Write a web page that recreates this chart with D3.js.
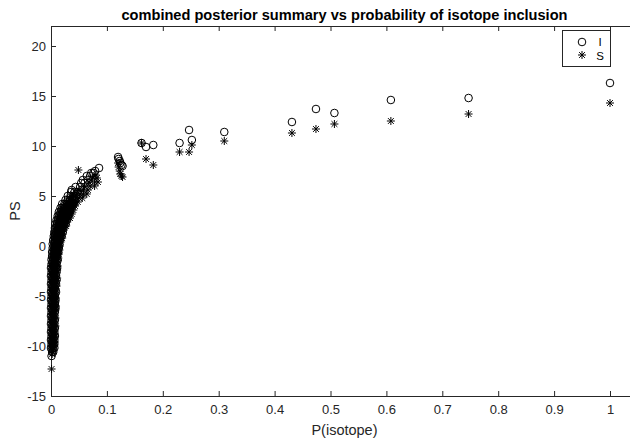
<!DOCTYPE html>
<html><head><meta charset="utf-8">
<script src="https://cdn.jsdelivr.net/npm/d3@7"></script>
<style>
body{margin:0;background:#fff}
svg{display:block}
text{font-family:Arial,"Liberation Sans",Helvetica,sans-serif}
</style>
</head><body>
<svg id="chart" width="630" height="440"></svg>
<script>
// ---------- data ----------
const titleText = "combined posterior summary vs probability of isotope inclusion";
const xLabel = "P(isotope)";
const yLabel = "PS";
const seriesNames = ["I", "S"];
const xTicks = [0, 0.1, 0.2, 0.3, 0.4, 0.5, 0.6, 0.7, 0.8, 0.9, 1];
const xTickLabels = ["0", "0.1", "0.2", "0.3", "0.4", "0.5", "0.6", "0.7", "0.8", "0.9", "1"];
const yTicks = [-15, -10, -5, 0, 5, 10, 15, 20];
const yTickLabels = ["-15", "-10", "-5", "0", "5", "10", "15", "20"];

// series I (circles): dense part as [PS, [P(isotope) values]]
const iDense = [
  [-11.0, [0.001]],
  [-10.6, [0.002, 0.004]],
  [-10.2, [0.000, 0.003, 0.006]],
  [-9.8, [0.001, 0.004, 0.006]],
  [-9.4, [0.000, 0.003, 0.006]],
  [-9.0, [0.001, 0.004, 0.007]],
  [-8.6, [0.000, 0.003, 0.006]],
  [-8.2, [0.001, 0.004, 0.007]],
  [-7.8, [0.000, 0.003, 0.006]],
  [-7.4, [0.001, 0.004, 0.007]],
  [-7.0, [0.000, 0.003, 0.006]],
  [-6.6, [0.001, 0.004, 0.007]],
  [-6.2, [0.000, 0.003, 0.006, 0.008]],
  [-5.8, [0.001, 0.004, 0.007]],
  [-5.4, [0.000, 0.003, 0.006, 0.008]],
  [-5.0, [0.001, 0.004, 0.007]],
  [-4.6, [0.000, 0.003, 0.006, 0.009]],
  [-4.2, [0.001, 0.004, 0.007]],
  [-3.8, [0.000, 0.003, 0.006, 0.009]],
  [-3.4, [0.001, 0.004, 0.007, 0.010]],
  [-3.0, [0.000, 0.003, 0.006, 0.009]],
  [-2.6, [0.001, 0.004, 0.007, 0.010]],
  [-2.2, [0.000, 0.003, 0.006, 0.009, 0.011]],
  [-1.8, [0.001, 0.004, 0.007, 0.010]],
  [-1.4, [0.001, 0.004, 0.007, 0.010, 0.012]],
  [-1.0, [0.002, 0.005, 0.008, 0.011]],
  [-0.6, [0.002, 0.005, 0.008, 0.011, 0.013]],
  [-0.2, [0.003, 0.006, 0.009, 0.012, 0.014]],
  [0.2, [0.003, 0.006, 0.009, 0.012, 0.015]],
  [0.6, [0.004, 0.007, 0.010, 0.013, 0.016]],
  [1.0, [0.005, 0.008, 0.011, 0.014, 0.017, 0.019]],
  [1.4, [0.006, 0.009, 0.012, 0.015, 0.018, 0.021]],
  [1.8, [0.007, 0.010, 0.013, 0.016, 0.019, 0.022]],
  [2.2, [0.008, 0.011, 0.014, 0.017, 0.020, 0.023, 0.026]],
  [2.6, [0.010, 0.013, 0.016, 0.019, 0.022, 0.025, 0.028]],
  [3.0, [0.012, 0.015, 0.018, 0.021, 0.024, 0.027, 0.030]],
  [3.4, [0.014, 0.017, 0.020, 0.023, 0.026, 0.029, 0.032]],
  [3.8, [0.017, 0.020, 0.023, 0.026, 0.029, 0.032, 0.035]],
  [4.2, [0.020, 0.024, 0.028, 0.032, 0.036, 0.040]],
  [4.6, [0.026, 0.030, 0.034, 0.038, 0.042]],
  [5.0, [0.030, 0.035, 0.040, 0.045]],
  [5.4, [0.036, 0.042, 0.048]],
  [5.6, [0.037]],
  [5.9, [0.044, 0.052]],
  [6.3, [0.054, 0.060]],
  [6.6, [0.057, 0.066]],
  [7.0, [0.064, 0.070]],
  [7.3, [0.072, 0.076]],
  [7.5, [0.079]],
  [7.8, [0.086]]
];
// series I: separate points [P(isotope), PS]
const iSparse = [
  [0.120, 8.9], [0.121, 8.7], [0.123, 8.5], [0.124, 8.3], [0.126, 8.1], [0.128, 8.0],
  [0.162, 10.3], [0.170, 9.9], [0.183, 10.1], [0.230, 10.3], [0.247, 11.6], [0.252, 10.6],
  [0.310, 11.4], [0.431, 12.4], [0.474, 13.7], [0.507, 13.3], [0.608, 14.6], [0.747, 14.8], [1.000, 16.3]
];

// series S (asterisks)
const sDense = [
  [-12.3, [0.001]],
  [-10.8, [0.002]],
  [-10.4, [0.001, 0.004]],
  [-10.0, [0.000, 0.003, 0.006]],
  [-9.6, [0.001, 0.004, 0.007]],
  [-9.2, [0.000, 0.003, 0.006]],
  [-8.8, [0.002, 0.005, 0.007]],
  [-8.4, [0.000, 0.003, 0.006]],
  [-8.0, [0.002, 0.005, 0.008]],
  [-7.6, [0.000, 0.003, 0.006]],
  [-7.2, [0.002, 0.005, 0.008]],
  [-6.8, [0.000, 0.003, 0.006]],
  [-6.4, [0.002, 0.005, 0.008]],
  [-6.0, [0.000, 0.003, 0.006, 0.009]],
  [-5.6, [0.002, 0.005, 0.008]],
  [-5.2, [0.000, 0.003, 0.006, 0.009]],
  [-4.8, [0.002, 0.005, 0.008]],
  [-4.4, [0.000, 0.003, 0.006, 0.009]],
  [-4.0, [0.002, 0.005, 0.008, 0.010]],
  [-3.6, [0.000, 0.003, 0.006, 0.009]],
  [-3.2, [0.002, 0.005, 0.008, 0.011]],
  [-2.8, [0.000, 0.003, 0.006, 0.009]],
  [-2.4, [0.002, 0.005, 0.008, 0.011]],
  [-2.0, [0.000, 0.003, 0.006, 0.009, 0.012]],
  [-1.6, [0.002, 0.005, 0.008, 0.011]],
  [-1.2, [0.001, 0.004, 0.007, 0.010, 0.013]],
  [-0.8, [0.003, 0.006, 0.009, 0.012, 0.014]],
  [-0.4, [0.003, 0.006, 0.009, 0.012, 0.015]],
  [0.0, [0.004, 0.007, 0.010, 0.013, 0.016]],
  [0.4, [0.005, 0.008, 0.011, 0.014, 0.017]],
  [0.8, [0.005, 0.008, 0.011, 0.014, 0.017, 0.020]],
  [1.2, [0.006, 0.009, 0.012, 0.015, 0.018, 0.021]],
  [1.6, [0.008, 0.011, 0.014, 0.017, 0.020, 0.023]],
  [2.0, [0.009, 0.012, 0.015, 0.018, 0.021, 0.024, 0.027]],
  [2.4, [0.011, 0.014, 0.017, 0.020, 0.023, 0.026, 0.029]],
  [2.8, [0.013, 0.016, 0.019, 0.022, 0.025, 0.028, 0.031, 0.034]],
  [3.2, [0.016, 0.019, 0.022, 0.025, 0.028, 0.031, 0.034, 0.037]],
  [3.6, [0.019, 0.022, 0.025, 0.028, 0.031, 0.034, 0.037, 0.040]],
  [4.0, [0.023, 0.027, 0.031, 0.035, 0.039, 0.043]],
  [4.4, [0.028, 0.032, 0.036, 0.040, 0.044, 0.048]],
  [4.8, [0.034, 0.039, 0.044, 0.050, 0.056]],
  [5.2, [0.040, 0.046, 0.052, 0.058, 0.064]],
  [5.6, [0.050, 0.058, 0.066]],
  [6.0, [0.060, 0.070, 0.078]],
  [6.4, [0.068, 0.078, 0.084]],
  [6.8, [0.074, 0.082]],
  [7.1, [0.080]],
  [7.6, [0.049]]
];
const sSparse = [
  [0.120, 8.3], [0.121, 7.9], [0.123, 7.5], [0.124, 7.2], [0.126, 7.0], [0.128, 6.9],
  [0.162, 10.3], [0.170, 8.7], [0.183, 8.1], [0.230, 9.4], [0.247, 9.4], [0.252, 10.1],
  [0.310, 10.5], [0.431, 11.3], [0.474, 11.7], [0.507, 12.2], [0.608, 12.5], [0.747, 13.2], [1.000, 14.3]
];

// ---------- build point tables ----------
function flatten(dense, sparse) {
  const out = [];
  dense.forEach(([v, pList]) => pList.forEach(p => out.push({p: p, v: v})));
  sparse.forEach(([p, v]) => out.push({p: p, v: v}));
  return out;
}
const ptsI = flatten(iDense, iSparse);
const ptsS = flatten(sDense, sSparse);

// ---------- layout ----------
const W = 630, H = 440;
const plotLeft = 51, plotTop = 26, plotBottom = 396;
const xMax = 1.05;
const pxPerUnit = 559;
const axColor = "#262626";
const tickFont = 13;

const x = d3.scaleLinear().domain([0, xMax]).range([plotLeft, plotLeft + pxPerUnit * xMax]);
const y = d3.scaleLinear().domain([-15, 22]).range([plotBottom, plotTop]);

const svg = d3.select("#chart");
svg.append("rect").attr("width", W).attr("height", H).attr("fill", "#fff");

// axes
const axB = svg.append("g").attr("transform", `translate(0,${plotBottom})`)
  .call(d3.axisBottom(x).tickValues(xTicks).tickFormat((d, i) => xTickLabels[i])
    .tickSizeInner(-5).tickSizeOuter(0).tickPadding(9));
const axT = svg.append("g").attr("transform", `translate(0,${plotTop})`)
  .call(d3.axisTop(x).tickValues(xTicks).tickFormat("")
    .tickSizeInner(-5).tickSizeOuter(0));
const axL = svg.append("g").attr("transform", `translate(${plotLeft},0)`)
  .call(d3.axisLeft(y).tickValues(yTicks).tickFormat((d, i) => yTickLabels[i])
    .tickSizeInner(-5).tickSizeOuter(0).tickPadding(5));
const axR = svg.append("g").attr("transform", `translate(${x(xMax)},0)`)
  .call(d3.axisRight(y).tickValues(yTicks).tickFormat("")
    .tickSizeInner(-5).tickSizeOuter(0));

[axB, axT, axL, axR].forEach(g => {
  g.selectAll("path, line").attr("stroke", axColor).attr("stroke-width", 1);
  g.selectAll("text").attr("fill", axColor).attr("font-size", tickFont)
    .attr("font-family", "Arial, 'Liberation Sans', Helvetica, sans-serif");
});

// markers
const starPath = "M-4,0L4,0M0,-4L0,4M-2.9,-2.9L2.9,2.9M-2.9,2.9L2.9,-2.9";
const gI = svg.append("g");
gI.selectAll("circle").data(ptsI).join("circle")
  .attr("cx", d => x(d.p)).attr("cy", d => y(d.v)).attr("r", 3.8)
  .attr("fill", "none").attr("stroke", "#000").attr("stroke-width", 1);
const gS = svg.append("g");
gS.selectAll("path").data(ptsS).join("path")
  .attr("transform", d => `translate(${x(d.p)},${y(d.v)})`)
  .attr("d", starPath).attr("fill", "none").attr("stroke", "#000").attr("stroke-width", 1);

// title and labels
const axisMid = (x(0) + x(xMax)) / 2;
svg.append("text").attr("x", axisMid).attr("y", 20).attr("text-anchor", "middle")
  .attr("font-weight", "bold").attr("font-size", 14.6).attr("fill", "#000").text(titleText);
svg.append("text").attr("x", axisMid).attr("y", 435).attr("text-anchor", "middle")
  .attr("font-size", 14.5).attr("fill", axColor).text(xLabel);
svg.append("text").attr("transform", `translate(20,${(plotTop + plotBottom) / 2}) rotate(-90)`)
  .attr("text-anchor", "middle").attr("font-size", 14.5).attr("fill", axColor).text(yLabel);

// legend
const lg = svg.append("g");
lg.append("rect").attr("x", 562.5).attr("y", 30.5).attr("width", 48).attr("height", 36)
  .attr("fill", "#fff").attr("stroke", axColor).attr("stroke-width", 1);
lg.append("circle").attr("cx", 582).attr("cy", 42).attr("r", 3.8)
  .attr("fill", "none").attr("stroke", "#000").attr("stroke-width", 1);
lg.append("path").attr("transform", "translate(582,55)").attr("d", starPath)
  .attr("fill", "none").attr("stroke", "#000").attr("stroke-width", 1);
lg.append("text").attr("x", 600).attr("y", 42).attr("dy", "0.35em").attr("text-anchor", "middle")
  .attr("font-size", 11.5).attr("fill", "#000").text(seriesNames[0]);
lg.append("text").attr("x", 600).attr("y", 55.5).attr("dy", "0.35em").attr("text-anchor", "middle")
  .attr("font-size", 11.5).attr("fill", "#000").text(seriesNames[1]);
</script>
</body></html>
